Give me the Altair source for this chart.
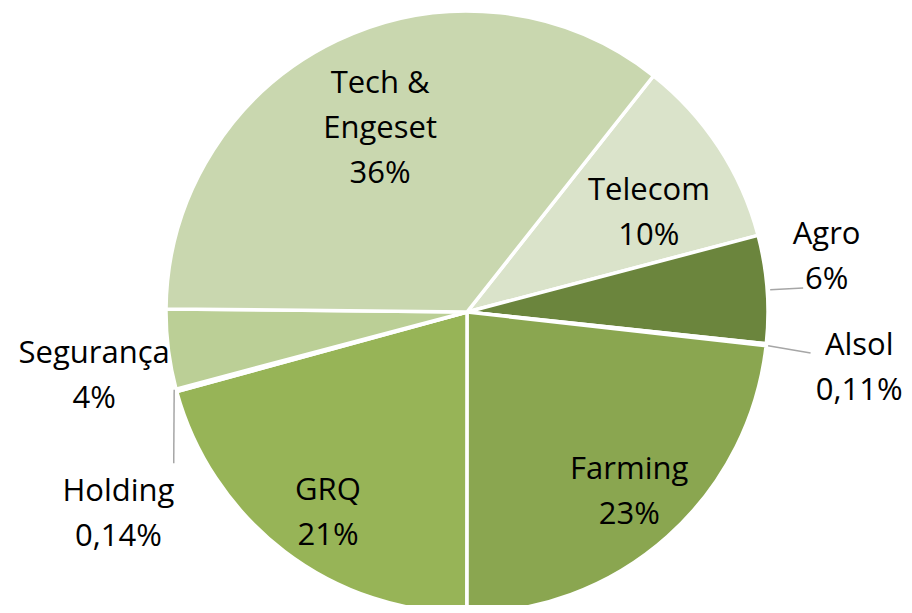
import math
import altair as alt
import pandas as pd

# ---- data (clockwise order, starting at the Tech/Telecom boundary) ----
categories = ["Telecom", "Agro", "Alsol", "Farming", "GRQ", "Holding", "Segurança", "Tech & Engeset"]
shares = [10.3, 5.8, 0.11, 23.3, 20.8, 0.14, 4.3, 35.6]
colors = ["#DAE3CA", "#6B853D", "#4F6228", "#8AA650", "#97B457", "#A9C47F", "#BBCF96", "#C9D7AF"]

# ---- layout (not data) ----
W, H = 896, 597
CX, CY = 459, 304
R = 301
START_DEG = 38.3
LINE_H = 45
# label placement: (angle offset in degrees from slice middle, radius px) for block centre
label_layout = {
    "Telecom": (4.2, 208),
    "Agro": (-4.55, 364),
    "Alsol": (1.65, 396),
    "Farming": (-0.55, 241),
    "GRQ": (-2.45, 243),
    "Holding": (-14.8, 402),
    "Segurança": (-2.4, 378),
    "Tech & Engeset": (0.35, 204),
}
text_names = {"Tech & Engeset": "Tech &\nEngeset"}
# leader lines: (inner angle offset, inner radius, outer angle offset, outer radius)
leaders = {
    "Agro": (0.15, 304, 0.25, 337),
    "Alsol": (0.15, 303, 0.55, 346),
    "Holding": (0.2, 303, -12.2, 330),
}


def pct(v):
    if v >= 1:
        return f"{round(v):d}%"
    return f"{v:.2f}%".replace(".", ",")


total = sum(shares)
rows, lab_rows, rule_rows = [], [], []
cum = 0.0
for i, (c, v) in enumerate(zip(categories, shares)):
    a0 = START_DEG + 360 * cum / total
    cum += v
    a1 = START_DEG + 360 * cum / total
    mid = (a0 + a1) / 2
    rows.append({"cat": c, "share": v, "idx": i})
    off, r = label_layout[c]
    a = math.radians(mid + off)
    txt = text_names.get(c, c) + "\n" + pct(v)
    n = txt.count("\n") + 1
    lab_rows.append({
        "cat": c,
        "text": txt,
        "x": CX + r * math.sin(a),
        "y": CY - r * math.cos(a) - (n - 1) * LINE_H / 2 + 2,
    })
    if c in leaders:
        ioff, ir, eoff, er = leaders[c]
        ai = math.radians(mid + ioff)
        ae = math.radians(mid + eoff)
        rule_rows.append({
            "cat": c,
            "x": CX + ir * math.sin(ai),
            "y": CY - ir * math.cos(ai),
            "x2": CX + er * math.sin(ae),
            "y2": CY - er * math.cos(ae),
        })

df = pd.DataFrame(rows)
labels = pd.DataFrame(lab_rows)
rules = pd.DataFrame(rule_rows)

off_rad = math.radians(START_DEG)

pie = alt.Chart(df).mark_arc(stroke="white", strokeWidth=3.5).encode(
    theta=alt.Theta("share:Q", stack=True,
                    scale=alt.Scale(range=[off_rad, off_rad + 2 * math.pi])),
    color=alt.Color("cat:N", scale=alt.Scale(domain=categories, range=colors), legend=None),
    order=alt.Order("idx:Q"),
    x=alt.value(CX),
    y=alt.value(CY),
    radius=alt.value(R),
)

leader = alt.Chart(rules).mark_rule(color="#A6A6A6", strokeWidth=1.5).encode(
    x=alt.X("x:Q", scale=None),
    y=alt.Y("y:Q", scale=None),
    x2="x2:Q",
    y2="y2:Q",
)

text = alt.Chart(labels).mark_text(
    font="Open Sans", fontSize=31, lineBreak="\n", lineHeight=LINE_H,
    align="center", baseline="middle", color="black",
).encode(
    x=alt.X("x:Q", scale=None),
    y=alt.Y("y:Q", scale=None),
    text="text:N",
)

chart = alt.layer(pie, leader, text).properties(
    width=W, height=H, padding=0, autosize=alt.AutoSizeParams(type="none"),
).configure_view(stroke=None)

chart.save("out.html", embed_options={"renderer": "svg", "actions": False})
